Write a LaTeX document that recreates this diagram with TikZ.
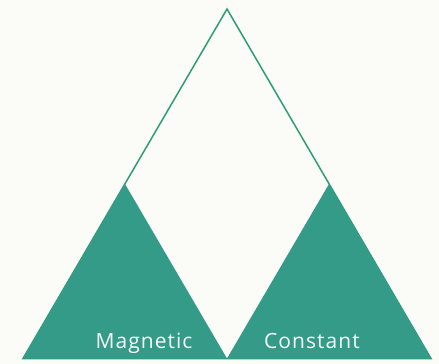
\documentclass[tikz,border=0pt]{standalone}
\usepackage{fontspec}
\setmainfont{Open Sans}
\newfontfamily\labelfont[LetterSpace=5]{Open Sans}
\definecolor{bg}{HTML}{FBFBF8}
\definecolor{tealfill}{HTML}{339B88}
\definecolor{edge}{HTML}{2E9C76}
\begin{document}
\begin{tikzpicture}[x=1pt,y=-1pt,
  outline/.style={draw=edge,line width=1.5pt,line join=miter},
  lobe/.style={fill=tealfill,draw=none},
  label/.style={text=white!95!tealfill,font=\labelfont\fontsize{21}{24}\selectfont,inner sep=0pt,anchor=base}]
\fill[bg] (0,0) rectangle (439,364);
\useasboundingbox (0,0) rectangle (439,364);
\coordinate (top) at (227,9);
\coordinate (bl) at (23,358.5);
\coordinate (br) at (431,358.5);
\coordinate (bm) at (227,358.5);
\coordinate (la) at (125,184);
\coordinate (ra) at (329,184);
\draw[outline] (bl) -- (top) -- (br) -- cycle;
\fill[lobe] (bl) -- (la) -- (bm) -- cycle;
\fill[lobe] (bm) -- (ra) -- (br) -- cycle;
\node[label] (mag) at (144,348) {Magnetic};
\node[label] (con) at (312,348) {Constant};
\end{tikzpicture}
\end{document}
